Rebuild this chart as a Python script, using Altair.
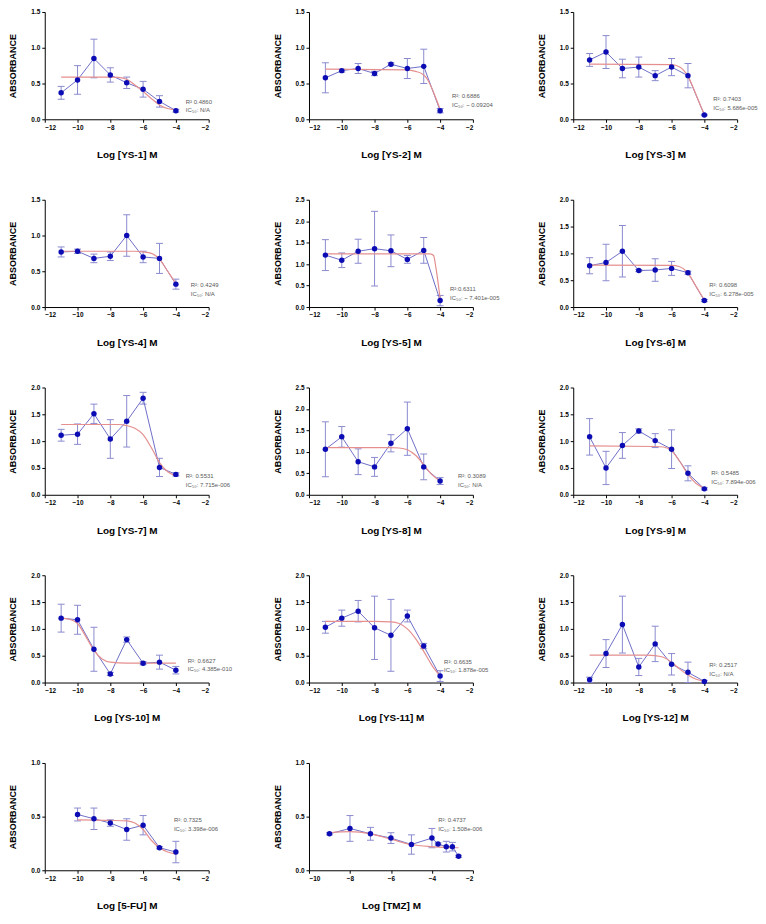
import altair as alt
import pandas as pd

# ---------------- data ----------------
names = ["YS-1", "YS-2", "YS-3", "YS-4", "YS-5", "YS-6", "YS-7", "YS-8",
         "YS-9", "YS-10", "YS-11", "YS-12", "5-FU", "TMZ"]

x_std = [-11, -10, -9, -8, -7, -6, -5, -4]
x_5fu = [-10, -9, -8, -7, -6, -5, -4]
x_tmz = [-9, -8, -7, -6, -5, -4, -3.7, -3.3, -3.0, -2.7]

ys1_mean = [0.37, 0.55, 0.85, 0.62, 0.51, 0.42, 0.25, 0.12]
ys1_err = [0.09, 0.20, 0.27, 0.10, 0.08, 0.11, 0.08, 0.02]
ys1_fit_x = [-11, -8, -7.5, -7, -6.5, -6, -5.5, -5, -4.5, -4]
ys1_fit_y = [0.59, 0.59, 0.585, 0.56, 0.48, 0.39, 0.29, 0.20, 0.15, 0.13]

ys2_mean = [0.58, 0.68, 0.71, 0.64, 0.77, 0.71, 0.74, 0.12]
ys2_err = [0.21, 0.02, 0.07, 0.03, 0.02, 0.14, 0.24, 0.03]
ys2_fit_x = [-11, -6, -5.5, -5, -4.75, -4.5, -4.25, -4]
ys2_fit_y = [0.70, 0.69, 0.67, 0.62, 0.55, 0.43, 0.29, 0.14]

ys3_mean = [0.83, 0.94, 0.71, 0.73, 0.61, 0.73, 0.61, 0.06]
ys3_err = [0.09, 0.23, 0.13, 0.14, 0.07, 0.12, 0.17, 0.01]
ys3_fit_x = [-11, -6, -5.5, -5, -4.75, -4.5, -4.25, -4]
ys3_fit_y = [0.77, 0.765, 0.73, 0.60, 0.48, 0.34, 0.20, 0.07]

ys4_mean = [0.77, 0.78, 0.68, 0.71, 1.00, 0.70, 0.68, 0.32]
ys4_err = [0.07, 0.03, 0.06, 0.06, 0.29, 0.08, 0.21, 0.07]
ys4_fit_x = [-11, -6.5, -6, -5.5, -5, -4.5, -4]
ys4_fit_y = [0.78, 0.78, 0.77, 0.75, 0.67, 0.50, 0.33]

ys5_mean = [1.21, 1.09, 1.30, 1.36, 1.31, 1.11, 1.32, 0.15]
ys5_err = [0.36, 0.17, 0.28, 0.87, 0.37, 0.09, 0.30, 0.12]
ys5_fit_x = [-11, -4.6, -4.4, -4.25, -4.1, -4]
ys5_fit_y = [1.24, 1.24, 1.20, 0.90, 0.50, 0.20]

ys6_mean = [0.77, 0.83, 1.04, 0.68, 0.69, 0.72, 0.64, 0.12]
ys6_err = [0.15, 0.34, 0.48, 0.02, 0.21, 0.13, 0.03, 0.02]
ys6_fit_x = [-11, -6, -5.5, -5, -4.5, -4]
ys6_fit_y = [0.78, 0.775, 0.75, 0.63, 0.38, 0.13]

ys7_mean = [1.11, 1.13, 1.51, 1.04, 1.37, 1.80, 0.51, 0.38]
ys7_err = [0.11, 0.19, 0.18, 0.36, 0.48, 0.11, 0.17, 0.03]
ys7_fit_x = [-11, -7.5, -7, -6.5, -6, -5.5, -5, -4.5, -4]
ys7_fit_y = [1.31, 1.31, 1.29, 1.24, 1.12, 0.88, 0.60, 0.43, 0.35]

ys8_mean = [1.06, 1.35, 0.77, 0.65, 1.20, 1.54, 0.65, 0.32]
ys8_err = [0.64, 0.24, 0.30, 0.22, 0.20, 0.62, 0.30, 0.08]
ys8_fit_x = [-11, -7, -6.5, -6, -5.5, -5, -4.5, -4]
ys8_fit_y = [1.10, 1.10, 1.09, 1.05, 0.92, 0.70, 0.47, 0.32]

ys9_mean = [1.08, 0.50, 0.92, 1.19, 1.01, 0.85, 0.40, 0.11]
ys9_err = [0.34, 0.31, 0.24, 0.04, 0.13, 0.36, 0.14, 0.02]
ys9_fit_x = [-11, -7, -6.5, -6, -5.5, -5, -4.5, -4]
ys9_fit_y = [0.91, 0.90, 0.89, 0.82, 0.62, 0.38, 0.21, 0.12]

ys10_mean = [1.20, 1.17, 0.62, 0.16, 0.80, 0.36, 0.38, 0.23]
ys10_err = [0.26, 0.27, 0.41, 0.03, 0.05, 0.03, 0.13, 0.07]
ys10_fit_x = [-11, -10.5, -10, -9.5, -9, -8.5, -8, -7, -4]
ys10_fit_y = [1.20, 1.18, 1.10, 0.86, 0.60, 0.44, 0.38, 0.36, 0.36]

ys11_mean = [1.03, 1.20, 1.33, 1.02, 0.88, 1.24, 0.68, 0.12]
ys11_err = [0.11, 0.15, 0.20, 0.59, 0.67, 0.11, 0.05, 0.10]
ys11_fit_x = [-11, -8, -7, -6.5, -6, -5.5, -5, -4.5, -4]
ys11_fit_y = [1.14, 1.14, 1.13, 1.10, 1.00, 0.82, 0.58, 0.32, 0.12]

ys12_mean = [0.05, 0.54, 1.08, 0.29, 0.72, 0.34, 0.19, 0.02]
ys12_err = [0.05, 0.26, 0.53, 0.16, 0.33, 0.20, 0.19, 0.02]
ys12_fit_x = [-11, -7.5, -7, -6.5, -6, -5.5, -5, -4.5, -4]
ys12_fit_y = [0.51, 0.51, 0.50, 0.47, 0.38, 0.25, 0.14, 0.06, 0.03]

fu_mean = [0.52, 0.48, 0.44, 0.38, 0.42, 0.21, 0.17]
fu_err = [0.06, 0.10, 0.03, 0.10, 0.09, 0.01, 0.10]
fu_fit_x = [-10, -8, -7, -6.5, -6, -5.5, -5, -4.5, -4]
fu_fit_y = [0.47, 0.465, 0.46, 0.44, 0.38, 0.28, 0.21, 0.17, 0.15]

tmz_mean = [0.34, 0.39, 0.34, 0.30, 0.24, 0.30, 0.245, 0.22, 0.22, 0.13]
tmz_err = [0.01, 0.12, 0.06, 0.05, 0.09, 0.09, 0.01, 0.05, 0.04, 0.01]
tmz_fit_x = [-9, -8, -7, -6, -5, -4, -3, -2.7]
tmz_fit_y = [0.35, 0.36, 0.34, 0.29, 0.24, 0.22, 0.21, 0.21]

y_max = [1.5, 1.5, 1.5, 1.5, 2.5, 2.0, 2.0, 2.5, 2.0, 2.0, 2.0, 2.0, 1.0, 1.0]

r2_text = ["R² 0.4860", "R²: 0.6886", "R²: 0.7403", "R²: 0.4249", "R²:0.6311",
           "R²: 0.6098", "R²: 0.5531", "R²: 0.3089", "R²: 0.5485", "R²: 0.6627",
           "R²: 0.6635", "R²: 0.2517", "R²: 0.7325", "R²: 0.4737"]
ic_text = ["IC₅₀: N/A", "IC₅₀: ~ 0.09204", "IC₅₀: 5.686e-005", "IC₅₀: N/A",
           "IC₅₀: ~ 7.401e-005", "IC₅₀: 6.278e-005", "IC₅₀: 7.715e-006", "IC₅₀: N/A",
           "IC₅₀: 7.894e-006", "IC₅₀: 4.385e-010", "IC₅₀: 1.878e-005", "IC₅₀: N/A",
           "IC₅₀: 3.398e-006", "IC₅₀: 1.508e-006"]

# ---------------- styles ----------------
W, H = 165, 108
FONT = "Liberation Sans"
PT_COLOR = "#0c0cb4"
LINE_COLOR = "#6e6ec8"
ERR_COLOR = "#8a8ad0"
FIT_COLOR = "#e58f8f"
NOTE_COLOR = "#5a5a5a"
# annotation pixel positions (x, px above axis for R², px above axis for IC50)
note_pos = [(142, 17, 9), (144, 23, 14), (141, 20, 11), (147, 22, 13), (142, 18, 9),
            (137, 22, 13), (142, 19, 10), (150, 19, 10), (139, 22, 13), (144, 22, 14),
            (136, 21, 13), (137, 18, 9), (130, 51, 42), (130, 51, 42)]

series = [
    (x_std, ys1_mean, ys1_err, ys1_fit_x, ys1_fit_y),
    (x_std, ys2_mean, ys2_err, ys2_fit_x, ys2_fit_y),
    (x_std, ys3_mean, ys3_err, ys3_fit_x, ys3_fit_y),
    (x_std, ys4_mean, ys4_err, ys4_fit_x, ys4_fit_y),
    (x_std, ys5_mean, ys5_err, ys5_fit_x, ys5_fit_y),
    (x_std, ys6_mean, ys6_err, ys6_fit_x, ys6_fit_y),
    (x_std, ys7_mean, ys7_err, ys7_fit_x, ys7_fit_y),
    (x_std, ys8_mean, ys8_err, ys8_fit_x, ys8_fit_y),
    (x_std, ys9_mean, ys9_err, ys9_fit_x, ys9_fit_y),
    (x_std, ys10_mean, ys10_err, ys10_fit_x, ys10_fit_y),
    (x_std, ys11_mean, ys11_err, ys11_fit_x, ys11_fit_y),
    (x_std, ys12_mean, ys12_err, ys12_fit_x, ys12_fit_y),
    (x_5fu, fu_mean, fu_err, fu_fit_x, fu_fit_y),
    (x_tmz, tmz_mean, tmz_err, tmz_fit_x, tmz_fit_y),
]


def make_panel(i):
    xs, mean, err, fx, fy = series[i]
    name = names[i]
    ymax = y_max[i]
    xlo = -10 if name == "TMZ" else -12
    df = pd.DataFrame({"x": xs, "m": mean, "e": err})
    df["lo"] = df["m"] - df["e"]
    df["hi"] = df["m"] + df["e"]
    fit = pd.DataFrame({"x": fx, "y": fy})

    xscale = alt.Scale(domain=[xlo, -2], nice=False, zero=False)
    yscale = alt.Scale(domain=[0, ymax], nice=False)
    xaxis = alt.Axis(values=list(range(xlo, -1, 2)), title=f"Log [{name}] M",
                     titlePadding=19)
    nt = int(round(ymax / 0.5))
    yaxis = alt.Axis(values=[k * 0.5 for k in range(nt + 1)], format=".1f",
                     title="ABSORBANCE", titlePadding=13)

    def X(f):
        return alt.X(f, type="quantitative", scale=xscale, axis=xaxis)

    def Y(f):
        return alt.Y(f, type="quantitative", scale=yscale, axis=yaxis)

    base = alt.Chart(df)
    rule = base.mark_rule(color=ERR_COLOR, strokeWidth=1).encode(
        x=X("x"), y=Y("lo"), y2="hi:Q")
    cap_lo = base.mark_tick(orient="horizontal", size=7, thickness=1,
                            color=ERR_COLOR, opacity=1).encode(x=X("x"), y=Y("lo"))
    cap_hi = base.mark_tick(orient="horizontal", size=7, thickness=1,
                            color=ERR_COLOR, opacity=1).encode(x=X("x"), y=Y("hi"))
    line = base.mark_line(color=LINE_COLOR, strokeWidth=1).encode(x=X("x"), y=Y("m"))
    curve = alt.Chart(fit).mark_line(color=FIT_COLOR, strokeWidth=1.2,
                                     interpolate="monotone").encode(x=X("x"), y=Y("y"))
    pts = base.mark_circle(size=30, color=PT_COLOR, opacity=1).encode(x=X("x"), y=Y("m"))

    px, r2_up, ic_up = note_pos[i]
    t1 = alt.Chart(pd.DataFrame({"t": [r2_text[i]]})).mark_text(
        align="left", baseline="middle", fontSize=6, font=FONT, color=NOTE_COLOR
    ).encode(x=alt.value(px), y=alt.value(H - r2_up), text="t:N")
    t2 = alt.Chart(pd.DataFrame({"t": [ic_text[i]]})).mark_text(
        align="left", baseline="middle", fontSize=6, font=FONT, color=NOTE_COLOR
    ).encode(x=alt.value(px), y=alt.value(H - ic_up), text="t:N")

    return alt.layer(rule, cap_lo, cap_hi, line, curve, pts, t1, t2).properties(
        width=W, height=H)


panels = [make_panel(i) for i in range(len(names))]

chart = alt.concat(*panels, columns=3, spacing={"row": 81, "column": 101},
                   bounds="flush").properties(
    padding={"left": 0, "top": -2, "right": 0, "bottom": 0}
).configure_view(stroke=None).configure_axis(
    grid=False,
    domainColor="black",
    domainWidth=1,
    tickColor="black",
    tickSize=3,
    labelFont=FONT,
    labelFontSize=6.5,
    labelFontWeight="bold",
    labelColor="black",
    labelPadding=2,
    titleFont=FONT,
    titleFontWeight="bold",
    titleColor="black",
).configure_axisX(
    titleFontSize=10,
).configure_axisY(
    titleFontSize=9,
)

chart.save("out.html", embed_options={"renderer": "svg", "actions": False})
